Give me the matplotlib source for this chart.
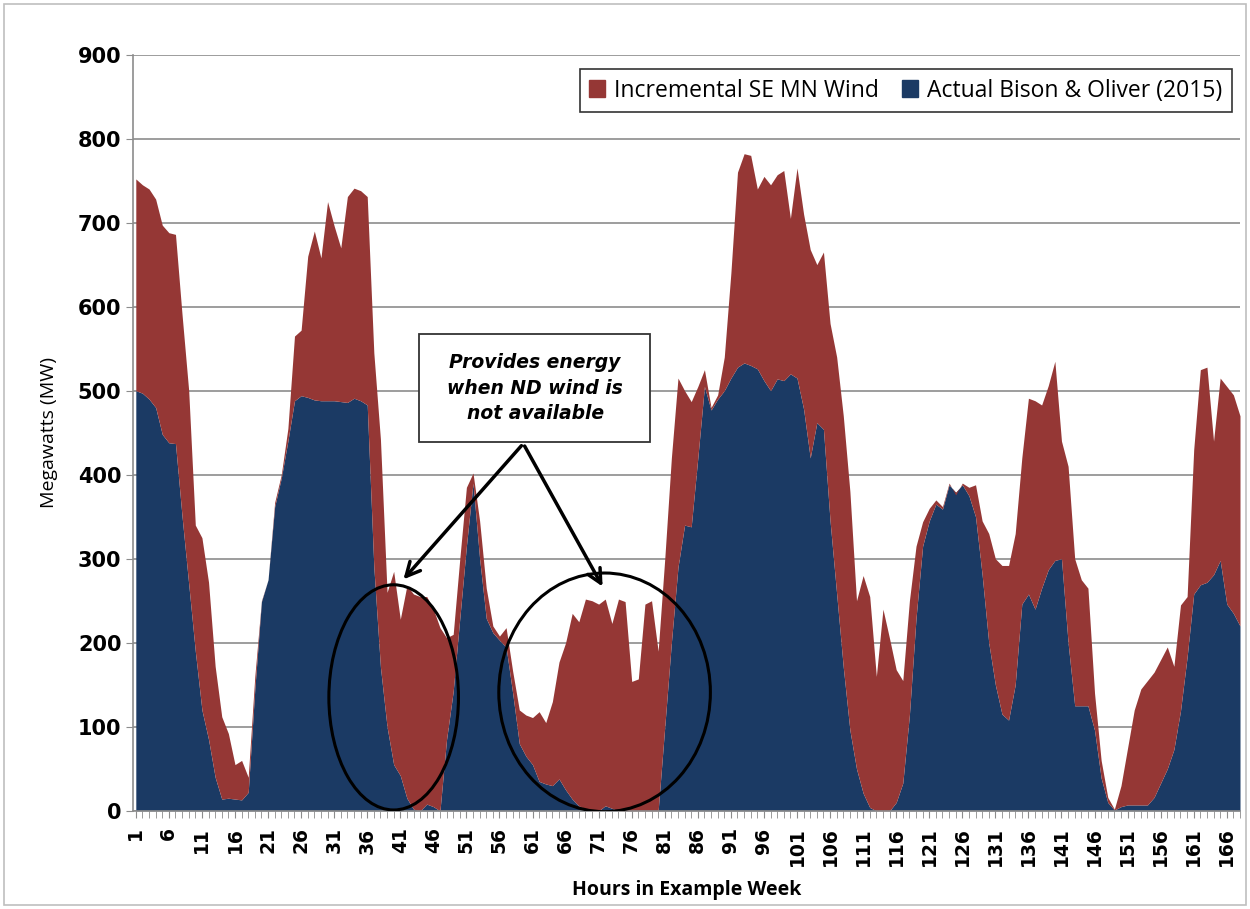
import numpy as np
import matplotlib
matplotlib.use("Agg")
import matplotlib.pyplot as plt
from matplotlib.patches import Ellipse, Patch, Rectangle

# hourly output for the example week (MW)
hours = np.arange(1, 169)

total = [
    752, 745, 740, 728, 697, 688, 686, 590, 500, 340,
    325, 272, 172, 112, 92, 55, 60, 40, 160, 250,
    275, 367, 400, 455, 565, 572, 660, 690, 658, 725,
    696, 670, 731, 741, 738, 731, 545, 442, 260, 285,
    228, 268, 258, 255, 255, 240, 218, 206, 210, 300,
    385, 402, 345, 265, 220, 208, 218, 166, 120, 114,
    111, 118, 105, 130, 177, 200, 235, 225, 252, 250,
    246, 252, 223, 252, 249, 154, 157, 246, 250, 190,
    300, 420, 515, 500, 487, 505, 525, 480, 495, 540,
    640, 760, 782, 780, 740, 755, 745, 757, 762, 705,
    765, 710, 668, 650, 665, 580, 540, 470, 380, 250,
    280, 255, 160, 240, 205, 168, 155, 250, 315, 344,
    360, 370, 362, 390, 376, 390, 385, 388, 345, 330,
    300, 292, 292, 330, 420, 491, 488, 483, 506, 535,
    440, 410, 300, 275, 265, 140, 60, 16, 2, 30,
    75, 120, 145, 155, 165, 180, 195, 172, 245, 255,
    430, 525, 528, 440, 515, 505, 495, 470,
]

bison_oliver = [
    500, 497, 490, 480, 448, 438, 437, 350, 270, 190,
    120, 85, 40, 14, 15, 14, 13, 22, 145, 249,
    275, 362, 396, 440, 488, 494, 492, 489, 488, 488,
    488, 487, 486, 491, 488, 483, 290, 171, 100, 55,
    42, 15, 2, 0, 8, 5, 0, 85, 142, 229,
    315, 390, 300, 229, 212, 203, 195, 140, 80, 65,
    55, 35, 32, 30, 38, 25, 14, 6, 2, 0,
    0, 6, 3, 0, 0, 0, 0, 0, 0, 0,
    100, 200, 290, 340, 338, 420, 505, 477, 490, 500,
    515, 528, 533, 530, 526, 512, 500, 514, 512, 520,
    515, 478, 420, 462, 454, 345, 258, 171, 96, 50,
    21, 4, 0, 0, 0, 10, 33, 114, 229, 315,
    345, 365, 359, 388, 379, 388, 375, 350, 281, 200,
    150, 115, 108, 150, 246, 258, 240, 265, 287, 298,
    300, 200, 125, 125, 125, 96, 39, 10, 1, 5,
    7, 7, 7, 7, 16, 33, 50, 73, 119, 183,
    258, 269, 272, 281, 298, 246, 235, 220,
]

total = np.array(total)
bison_oliver = np.array(bison_oliver)
incremental = total - bison_oliver

red = "#953735"
navy = "#1b3a64"

fig = plt.figure(figsize=(12.5, 9.09), dpi=100)
ax = fig.add_axes([0.106, 0.108, 0.886, 0.832])

ax.fill_between(hours, 0, bison_oliver, color=navy, lw=0, zorder=2)
ax.fill_between(hours, bison_oliver, bison_oliver + incremental, color=red, lw=0, zorder=2)

ax.set_xlim(0.5, 168)
ax.set_ylim(0, 900)
ax.set_yticks(range(0, 901, 100))
ax.yaxis.grid(True, color="#8c8c8c", lw=1.2, zorder=1)
ax.set_axisbelow(True)

ax.set_xticks(range(1, 168, 5))
ax.set_xticks(hours, minor=True)
ax.tick_params(axis="x", which="major", length=5, color="#8c8c8c", pad=7)
ax.tick_params(axis="x", which="minor", length=5, color="#8c8c8c")
ax.tick_params(axis="y", length=5, color="#8c8c8c", pad=3)
for lab in ax.get_xticklabels():
    lab.set_rotation(90)
    lab.set_fontsize(13.5)
    lab.set_fontweight("bold")
for lab in ax.get_yticklabels():
    lab.set_fontsize(15)
    lab.set_fontweight("bold")

for side in ["top", "right"]:
    ax.spines[side].set_visible(False)
for side in ["left", "bottom"]:
    ax.spines[side].set_color("#8c8c8c")
    ax.spines[side].set_linewidth(1.2)

ax.set_ylabel("Megawatts (MW)", fontsize=14, family="Open Sans", labelpad=14)
ax.set_xlabel("Hours in Example Week", fontsize=14, fontweight="bold",
              family="Open Sans", labelpad=10)

handles = [Patch(color=red, label="Incremental SE MN Wind"),
           Patch(color=navy, label="Actual Bison & Oliver (2015)")]
leg = ax.legend(handles=handles, loc="upper right", ncol=2,
                prop={"family": "Open Sans", "size": 16.5},
                bbox_to_anchor=(0.993, 0.981), borderaxespad=0,
                handlelength=0.7, handleheight=0.7,
                handletextpad=0.4, columnspacing=1.0, fancybox=False,
                edgecolor="black", borderpad=0.42)
leg.get_frame().set_linewidth(1.2)

# callout box, arrows and circles
ax.add_patch(Rectangle((43.9, 439), 34.9, 128, fc="white", ec="#333333", lw=1.3, zorder=6))
ax.text(61.4, 503, "Provides energy\nwhen ND wind is\nnot available", ha="center", va="center",
        fontsize=13.5, fontweight="bold", style="italic", linespacing=1.45, zorder=7)
ax.annotate("", xy=(41.2, 273), xytext=(59.6, 437),
            arrowprops=dict(arrowstyle="->", lw=2.5, color="black", mutation_scale=25), zorder=6)
ax.annotate("", xy=(71.8, 264), xytext=(59.6, 437),
            arrowprops=dict(arrowstyle="->", lw=2.5, color="black", mutation_scale=25), zorder=6)
ax.add_patch(Ellipse((40, 135), 19.6, 268, fill=False, ec="black", lw=2.2, zorder=5))
ax.add_patch(Ellipse((71.9, 141), 32, 284, fill=False, ec="black", lw=2.2, zorder=5))

fig.patches.append(Rectangle((0.003, 0.004), 0.994, 0.992, transform=fig.transFigure,
                             fill=False, ec="#bfbfbf", lw=1.2))

fig.savefig("out.png", dpi=100)
